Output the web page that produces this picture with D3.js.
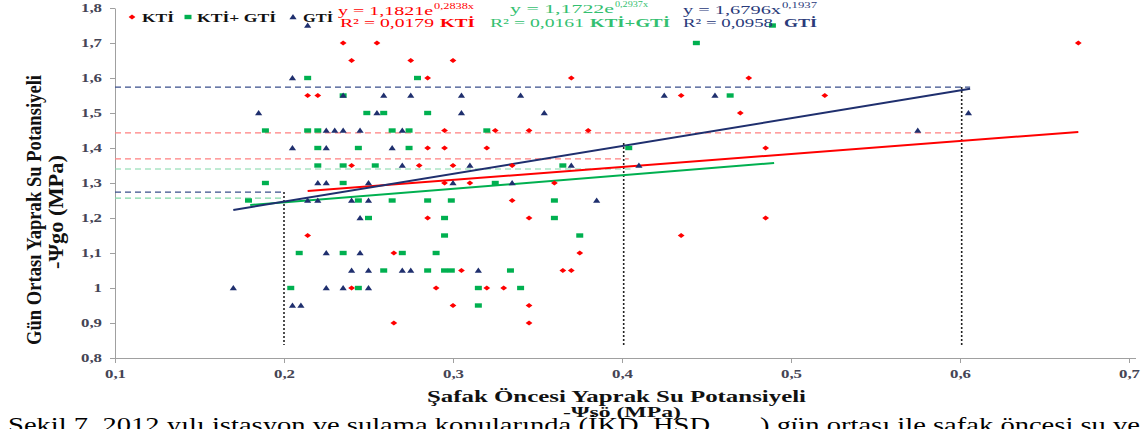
<!DOCTYPE html>
<html>
<head>
<meta charset="utf-8">
<script src="https://cdn.jsdelivr.net/npm/d3@7"></script>
<style>
  body { margin: 0; background: #fff; }
  text { font-family: "Liberation Serif", "Times New Roman", serif; }
</style>
</head>
<body>
<svg width="1148" height="429"></svg>
<script>
// values
var xTicks = [0.1, 0.2, 0.3, 0.4, 0.5, 0.6, 0.7];
var yTicks = [0.8, 0.9, 1.0, 1.1, 1.2, 1.3, 1.4, 1.5, 1.6, 1.7, 1.8];

var kti = [
  [0.235, 1.70], [0.255, 1.70], [0.670, 1.70],
  [0.240, 1.65], [0.275, 1.65], [0.300, 1.65],
  [0.285, 1.60], [0.370, 1.60], [0.475, 1.60],
  [0.214, 1.55], [0.220, 1.55], [0.435, 1.55], [0.520, 1.55],
  [0.470, 1.50],
  [0.295, 1.45], [0.325, 1.45], [0.345, 1.45], [0.380, 1.45],
  [0.285, 1.40], [0.295, 1.40], [0.320, 1.40], [0.485, 1.40],
  [0.240, 1.35], [0.280, 1.35], [0.300, 1.35], [0.335, 1.35],
  [0.295, 1.30], [0.310, 1.30], [0.360, 1.30],
  [0.335, 1.25],
  [0.285, 1.20], [0.345, 1.20], [0.485, 1.20],
  [0.214, 1.15], [0.435, 1.15],
  [0.265, 1.10], [0.375, 1.10],
  [0.305, 1.05], [0.365, 1.05], [0.370, 1.05],
  [0.240, 1.00], [0.290, 1.00], [0.320, 1.00], [0.330, 1.00],
  [0.300, 0.95], [0.345, 0.95],
  [0.265, 0.90], [0.345, 0.90]
];

var ktiGti = [
  [0.489, 1.75],
  [0.444, 1.70],
  [0.214, 1.60], [0.279, 1.60],
  [0.235, 1.55], [0.464, 1.55],
  [0.249, 1.50], [0.259, 1.50], [0.285, 1.50],
  [0.189, 1.45], [0.214, 1.45], [0.220, 1.45], [0.264, 1.45], [0.274, 1.45], [0.320, 1.45],
  [0.220, 1.40], [0.244, 1.40], [0.274, 1.40], [0.404, 1.40],
  [0.220, 1.35], [0.235, 1.35], [0.254, 1.35], [0.365, 1.35],
  [0.189, 1.30], [0.235, 1.30], [0.325, 1.30],
  [0.179, 1.25], [0.244, 1.25], [0.264, 1.25], [0.285, 1.25], [0.299, 1.25], [0.360, 1.25],
  [0.250, 1.20], [0.295, 1.20], [0.360, 1.20],
  [0.295, 1.15], [0.375, 1.15],
  [0.209, 1.10], [0.235, 1.10], [0.270, 1.10], [0.290, 1.10],
  [0.259, 1.05], [0.285, 1.05], [0.295, 1.05], [0.299, 1.05], [0.334, 1.05],
  [0.204, 1.00], [0.244, 1.00], [0.315, 1.00], [0.340, 1.00],
  [0.315, 0.95]
];

var gti = [
  [0.214, 1.75],
  [0.205, 1.60],
  [0.235, 1.55], [0.259, 1.55], [0.275, 1.55], [0.305, 1.55], [0.340, 1.55], [0.425, 1.55], [0.455, 1.55],
  [0.185, 1.50], [0.255, 1.50], [0.305, 1.50], [0.354, 1.50], [0.605, 1.50],
  [0.225, 1.45], [0.230, 1.45], [0.235, 1.45], [0.245, 1.45], [0.270, 1.45], [0.575, 1.45],
  [0.205, 1.40], [0.225, 1.40], [0.264, 1.40],
  [0.270, 1.35], [0.310, 1.35], [0.370, 1.35], [0.410, 1.35],
  [0.220, 1.30], [0.225, 1.30], [0.250, 1.30], [0.300, 1.30], [0.335, 1.30],
  [0.214, 1.25], [0.220, 1.25], [0.240, 1.25], [0.250, 1.25], [0.385, 1.25],
  [0.245, 1.20],
  [0.225, 1.10], [0.245, 1.10],
  [0.240, 1.05], [0.250, 1.05], [0.270, 1.05], [0.275, 1.05], [0.315, 1.05],
  [0.170, 1.00], [0.225, 1.00], [0.235, 1.00], [0.250, 1.00],
  [0.205, 0.95], [0.210, 0.95]
];

// trend lines (ends as drawn)
var trendKti = [[0.214, 1.277], [0.670, 1.446]];
var trendKtiGti = [[0.180, 1.237], [0.490, 1.357]];
var trendGti = [[0.170, 1.223], [0.606, 1.569]];

// dashed read-off lines: level, where they stop, which series
var guideLevel = [1.574, 1.443, 1.369, 1.340, 1.274, 1.257];
var guideEnd = [0.606, 0.602, 0.404, 0.405, 0.200, 0.200];
var guideSeries = ["gti", "kti", "kti", "kg", "gti", "kg"];
var dropX = [0.200, 0.401, 0.601];
var dropTop = [1.274, 1.414, 1.574];
var dropBottom = 0.837;

var svg = d3.select("svg");
var red = "#ff0000", green = "#00b050", navy = "#1f2f6e";
var guideColor = { kti: "#ff8080", kg: "#80d8a8", gti: "#3a4f8c" };

var x = d3.scaleLinear().domain([0.1, 0.7]).range([115, 1129]);
var y = d3.scaleLinear().domain([0.8, 1.8]).range([358, 8]);

var loc = d3.formatLocale({ decimal: ",", thousands: ".", grouping: [3], currency: ["", ""] });
var fmt = loc.format("~g");

// stretch text horizontally like the reference
function stretch(sel, k) {
  sel.each(function() {
    var w = this.getComputedTextLength();
    d3.select(this).attr("textLength", w * k).attr("lengthAdjust", "spacingAndGlyphs");
  });
}

function fitText(sel, w) {
  sel.attr("textLength", w).attr("lengthAdjust", "spacingAndGlyphs");
}

// axes
var xAxis = svg.append("g")
  .attr("transform", "translate(0,358)")
  .call(d3.axisBottom(x).tickValues(xTicks).tickFormat(fmt).tickSize(5).tickSizeOuter(0));
xAxis.select(".domain").attr("stroke", "#a0a0a0").attr("d", "M115,0.5H1136");
xAxis.selectAll(".tick line").attr("stroke", "#a0a0a0");
xAxis.selectAll(".tick text")
  .attr("y", 16).attr("dy", "0.32em")
  .style("font-size", "12px").style("font-weight", "bold").attr("fill", "#454555");
stretch(xAxis.selectAll(".tick text"), 1.4);

var yAxis = svg.append("g")
  .attr("transform", "translate(115,0)")
  .call(d3.axisLeft(y).tickValues(yTicks).tickFormat(fmt).tickSize(5).tickSizeOuter(0));
yAxis.select(".domain").attr("stroke", "#a0a0a0");
yAxis.selectAll(".tick line").attr("stroke", "#a0a0a0");
yAxis.selectAll(".tick text")
  .attr("x", -13)
  .style("font-size", "12px").style("font-weight", "bold").attr("fill", "#454555");
stretch(yAxis.selectAll(".tick text"), 1.4);

// dashed guides
var guides = guideLevel.map(function(v, i) { return { v: v, end: guideEnd[i], s: guideSeries[i] }; });
svg.append("g").selectAll("line").data(guides).enter().append("line")
  .attr("x1", x(0.1)).attr("x2", function(d) { return x(d.end); })
  .attr("y1", function(d) { return y(d.v); }).attr("y2", function(d) { return y(d.v); })
  .attr("stroke", function(d) { return guideColor[d.s]; })
  .attr("stroke-width", 1.2)
  .attr("stroke-dasharray", "6,4");

svg.append("g").selectAll("line").data(dropX).enter().append("line")
  .attr("x1", function(d) { return x(d); }).attr("x2", function(d) { return x(d); })
  .attr("y1", function(d, i) { return y(dropTop[i]); }).attr("y2", y(dropBottom))
  .attr("stroke", "#222").attr("stroke-width", 1.6)
  .attr("stroke-dasharray", "2,2");

// trend lines
var line = d3.line().x(function(d) { return x(d[0]); }).y(function(d) { return y(d[1]); });
[[trendKti, red], [trendKtiGti, green], [trendGti, navy]].forEach(function(t) {
  svg.append("path").datum(t[0]).attr("d", line)
    .attr("fill", "none").attr("stroke", t[1]).attr("stroke-width", 2);
});

// markers
var diamond = "M0,-2.6L3.4,0L0,2.6L-3.4,0Z";
var square = "M-3.5,-2.2H3.5V2.2H-3.5Z";
var tri = "M0,-3L3.6,2.3H-3.6Z";

svg.append("g").selectAll("path").data(ktiGti).enter().append("path")
  .attr("d", square).attr("fill", green)
  .attr("transform", function(d) { return "translate(" + x(d[0]) + "," + y(d[1]) + ")"; });
svg.append("g").selectAll("path").data(gti).enter().append("path")
  .attr("d", tri).attr("fill", navy)
  .attr("transform", function(d) { return "translate(" + x(d[0]) + "," + y(d[1]) + ")"; });
svg.append("g").selectAll("path").data(kti).enter().append("path")
  .attr("d", diamond).attr("fill", red)
  .attr("transform", function(d) { return "translate(" + x(d[0]) + "," + y(d[1]) + ")"; });

// legend
var leg = svg.append("g");
leg.append("path").attr("d", diamond).attr("fill", red).attr("transform", "translate(132,17)");
leg.append("path").attr("d", square).attr("fill", green).attr("transform", "translate(188,17)");
leg.append("path").attr("d", tri).attr("fill", navy).attr("transform", "translate(293,17)");
[["KTİ", 142, 32], ["KTİ+ GTİ", 197, 79], ["GTİ", 303, 30]].forEach(function(l) {
  leg.append("text").attr("x", l[1]).attr("y", 22).text(l[0])
    .style("font-size", "13px").style("font-weight", "bold").attr("fill", "#111")
    .call(fitText, l[2]);
});

// fit equations
function eq(col, x0, yMain, mainStr, mainW, supStr, supW, x1, r2Str, r2W, nameStr, nameX, nameW) {
  var g = svg.append("g").attr("fill", col);
  g.append("text").attr("x", x0).attr("y", yMain).text(mainStr)
    .style("font-size", "13px").call(fitText, mainW);
  g.append("text").attr("x", x0 + mainW + 1).attr("y", yMain - 6).text(supStr)
    .style("font-size", "9px").call(fitText, supW);
  g.append("text").attr("x", x1).attr("y", 26.5).text(r2Str)
    .style("font-size", "13px").call(fitText, r2W);
  g.append("text").attr("x", nameX).attr("y", 26.5).text(nameStr)
    .style("font-size", "13px").style("font-weight", "bold").call(fitText, nameW);
}
eq(red, 338, 15, "y = 1,1821e", 95, "0,2838x", 40, 340, "R² = 0,0179", 94, "KTİ", 440, 35);
eq("#33c070", 510, 13, "y = 1,1722e", 104, "0,2937x", 33, 490, "R² = 0,0161", 94, "KTİ+GTİ", 590, 80);
eq("#2a3a7a", 683, 14, "y = 1,6796x", 98, "0,1937", 35, 683, "R² = 0,0958", 90, "GTİ", 784, 33);

// axis titles
svg.append("text").attr("x", 427).attr("y", 402)
  .text("Şafak Öncesi Yaprak Su Potansiyeli")
  .style("font-size", "16px").style("font-weight", "bold").attr("fill", "#111")
  .call(fitText, 379);
svg.append("text").attr("x", 563).attr("y", 417)
  .text("-Ψsö (MPa)")
  .style("font-size", "15px").style("font-weight", "bold").attr("fill", "#111")
  .call(fitText, 118);

svg.append("text")
  .attr("transform", "translate(41,210) rotate(-90) scale(1,1.55)")
  .attr("x", -135)
  .text("Gün Ortası Yaprak Su Potansiyeli")
  .style("font-size", "14px").style("font-weight", "bold").attr("fill", "#111")
  .call(fitText, 270);
svg.append("text")
  .attr("transform", "translate(63,212) rotate(-90) scale(1,1.55)")
  .attr("x", -57)
  .text("-Ψgo (MPa)")
  .style("font-size", "14px").style("font-weight", "bold").attr("fill", "#111")
  .call(fitText, 114);

// caption, cut by the bottom edge
svg.append("text").attr("x", 8).attr("y", 432)
  .text("Şekil 7. 2012 yılı istasyon ve sulama konularında (İKD, HSD ......) gün ortası ile şafak öncesi su ve")
  .style("font-size", "22px").attr("fill", "#000")
  .call(fitText, 1132);
</script>
</body>
</html>
